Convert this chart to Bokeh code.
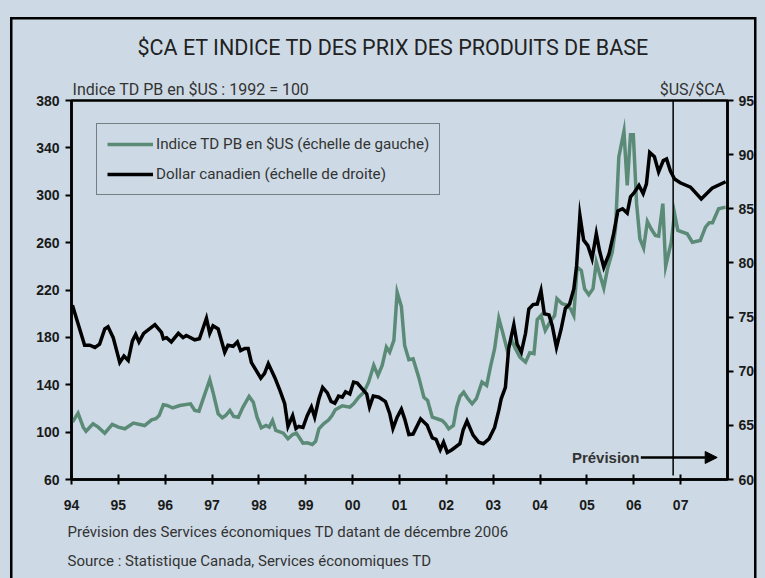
from bokeh.plotting import figure
from bokeh.models import (Range1d, LinearAxis, FixedTicker, Label, Legend, LegendItem,
                          Arrow, NormalHead, Title)
from bokeh.embed import file_html
from bokeh.resources import INLINE

# ---------------- data ----------------
cad_years = [1994.02, 1994.28, 1994.39, 1994.50, 1994.60, 1994.71, 1994.78, 1994.89,
             1995.03, 1995.12, 1995.21, 1995.30, 1995.37, 1995.44, 1995.54, 1995.78,
             1995.92, 1995.96, 1996.03, 1996.13, 1996.28, 1996.38, 1996.45, 1996.63,
             1996.73, 1996.88, 1996.95, 1997.02, 1997.13, 1997.27, 1997.34, 1997.45,
             1997.54, 1997.61, 1997.70, 1997.77, 1997.84, 1998.04, 1998.12, 1998.20,
             1998.34, 1998.45, 1998.55, 1998.62, 1998.72, 1998.79, 1998.85, 1998.94,
             1999.03, 1999.12, 1999.19, 1999.28, 1999.36, 1999.46, 1999.54, 1999.62,
             1999.70, 1999.78, 1999.85, 1999.94, 2000.02, 2000.10, 2000.20, 2000.30,
             2000.36, 2000.44, 2000.56, 2000.70, 2000.79, 2000.86, 2000.95, 2001.04,
             2001.11, 2001.20, 2001.29, 2001.45, 2001.59, 2001.70, 2001.78, 2001.87,
             2001.94, 2002.02, 2002.12, 2002.29, 2002.36, 2002.44, 2002.57, 2002.69,
             2002.79, 2002.91, 2003.03, 2003.12, 2003.17, 2003.26, 2003.33, 2003.44,
             2003.51, 2003.60, 2003.69, 2003.76, 2003.85, 2003.94, 2004.02, 2004.09,
             2004.19, 2004.26, 2004.35, 2004.45, 2004.54, 2004.63, 2004.72, 2004.78,
             2004.85, 2004.93, 2005.02, 2005.11, 2005.20, 2005.27, 2005.36, 2005.47,
             2005.57, 2005.66, 2005.76, 2005.86, 2005.93, 2006.01, 2006.11, 2006.20,
             2006.27, 2006.34, 2006.44, 2006.53, 2006.63, 2006.70, 2006.78, 2006.87,
             2006.99, 2007.21, 2007.44, 2007.67, 2007.96]
cad_values = [76.1, 72.4, 72.4, 72.2, 72.5, 73.9, 74.1, 73.1,
              70.8, 71.4, 71.0, 72.8, 73.4, 72.7, 73.5, 74.3,
              73.6, 73.0, 73.1, 72.7, 73.5, 73.1, 73.3, 72.9,
              73.0, 74.9, 73.5, 74.2, 73.9, 71.75, 72.4, 72.3,
              72.7, 71.9, 72.1, 72.1, 70.8, 69.35, 69.8, 70.7,
              69.4, 68.2, 67.0, 64.9, 65.9, 64.7, 64.9, 64.8,
              65.9, 66.7, 65.75, 67.45, 68.5, 68.0, 67.2, 67.05,
              67.7, 67.6, 68.1, 67.9, 69.0, 68.9, 68.4, 67.9,
              66.7, 67.7, 67.6, 67.2, 66.1, 64.7, 65.75, 66.5,
              65.6, 64.15, 64.2, 65.6, 65.0, 63.85, 63.7, 62.75,
              63.45, 62.5, 62.75, 63.3, 64.6, 65.4, 64.1, 63.45,
              63.3, 63.75, 64.8, 66.4, 67.45, 68.5, 72.1, 74.3,
              72.5, 71.75, 73.5, 75.75, 76.15, 76.2, 77.45, 75.3,
              75.2, 74.2, 72.2, 73.9, 75.8, 76.2, 77.6, 79.75,
              84.4, 82.1, 81.6, 80.4, 82.7, 81.1, 79.6, 80.8,
              82.7, 84.8, 85.0, 84.6, 86.1, 86.5, 87.15, 86.4,
              87.3, 90.2, 89.8, 88.4, 89.45, 89.6, 88.5, 87.75,
              87.4, 87.0, 85.9, 86.9, 87.5]

tdpb_years = [1994.02, 1994.14, 1994.25, 1994.31, 1994.46, 1994.57, 1994.71, 1994.87,
              1995.00, 1995.14, 1995.32, 1995.46, 1995.56, 1995.71, 1995.80, 1995.87,
              1995.96, 1996.04, 1996.16, 1996.31, 1996.54, 1996.63, 1996.72, 1996.95,
              1997.02, 1997.13, 1997.22, 1997.29, 1997.38, 1997.46, 1997.56, 1997.66,
              1997.79, 1997.88, 1997.96, 1998.05, 1998.15, 1998.22, 1998.29, 1998.36,
              1998.52, 1998.62, 1998.72, 1998.80, 1998.94, 1999.03, 1999.14, 1999.21,
              1999.28, 1999.38, 1999.49, 1999.56, 1999.63, 1999.78, 1999.94, 2000.02,
              2000.13, 2000.24, 2000.34, 2000.45, 2000.54, 2000.63, 2000.72, 2000.79,
              2000.88, 2000.95, 2001.04, 2001.11, 2001.20, 2001.29, 2001.41, 2001.52,
              2001.60, 2001.70, 2001.80, 2001.91, 2001.98, 2002.05, 2002.15, 2002.22,
              2002.29, 2002.37, 2002.46, 2002.55, 2002.64, 2002.76, 2002.86, 2002.94,
              2003.03, 2003.12, 2003.20, 2003.30, 2003.39, 2003.48, 2003.57, 2003.69,
              2003.78, 2003.87, 2003.94, 2004.02, 2004.11, 2004.21, 2004.31, 2004.36,
              2004.47, 2004.56, 2004.65, 2004.72, 2004.79, 2004.88, 2004.95, 2005.04,
              2005.13, 2005.20, 2005.27, 2005.36, 2005.44, 2005.54, 2005.61, 2005.68,
              2005.79, 2005.86, 2005.93, 2005.99, 2006.06, 2006.13, 2006.21, 2006.29,
              2006.37, 2006.46, 2006.53, 2006.62, 2006.68, 2006.75, 2006.80, 2006.87,
              2006.94, 2007.14, 2007.25, 2007.42, 2007.53, 2007.61, 2007.68, 2007.81,
              2007.96]
tdpb_values = [108.4, 116.0, 104.2, 100.8, 107.0, 104.2, 99.1, 106.5,
               104.2, 102.8, 107.6, 106.5, 105.6, 110.4, 111.3, 114.0,
               123.1, 122.5, 120.5, 122.5, 123.9, 118.3, 117.7, 144.2,
               133.7, 115.5, 112.1, 114.0, 118.3, 113.2, 112.6, 121.1,
               130.1, 125.3, 112.6, 103.7, 105.6, 104.2, 109.8, 101.4,
               99.1, 94.4, 98.0, 99.2, 90.7, 91.0, 89.6, 92.3,
               102.8, 107.0, 110.4, 114.0, 118.9, 122.2, 121.1, 123.9,
               129.5, 133.7, 142.2, 156.3, 147.8, 156.3, 171.7, 167.5,
               177.4, 218.0, 206.1, 173.2, 161.1, 161.9, 146.4, 129.5,
               126.7, 112.6, 111.3, 109.8, 107.0, 102.8, 105.6, 121.1,
               130.1, 133.7, 128.2, 123.9, 128.2, 142.2, 139.4, 154.9,
               170.4, 196.0, 184.4, 169.0, 178.0, 170.0, 163.3, 159.1,
               167.0, 166.2, 195.1, 198.5, 185.8, 192.9, 198.5, 212.6,
               208.4, 207.5, 204.2, 198.5, 239.3, 236.5, 221.1, 216.0,
               221.1, 243.5, 233.7, 221.6, 238.0, 252.0, 271.7, 332.2,
               354.0, 308.3, 351.1, 351.1, 292.9, 263.3, 255.4, 277.9,
               271.7, 266.1, 265.5, 292.9, 240.0, 252.0, 260.4, 284.4,
               270.3, 267.5, 260.4, 261.9, 273.1, 276.8, 276.8, 288.6,
               290.0]

x_ticks = list(range(1994, 2008))
x_tick_labels = ["94", "95", "96", "97", "98", "99", "00", "01", "02", "03",
                 "04", "05", "06", "07"]
left_ticks = [60, 100, 140, 180, 220, 260, 300, 340, 380]
right_ticks = [60, 65, 70, 75, 80, 85, 90, 95]
forecast_start = 2006.84

title_text = "$CA ET INDICE TD DES PRIX DES PRODUITS DE BASE"
left_unit_text = "Indice TD PB en  $US : 1992 = 100"
right_unit_text = "$US/$CA"
note_text = "Prévision des Services économiques TD datant de décembre 2006"
source_text = "Source : Statistique Canada, Services économiques TD"

# ---------------- style ----------------
BG = "#cddae5"
GREEN = "#5b8b77"
NARROW = "Roboto"
BOLD = "Liberation Sans"
TXT = "#333333"

frame_bg = ("linear-gradient(#000,#000) 10px 17px / 2.5px 700px no-repeat, "
            "linear-gradient(#000,#000) 10px 17px / 746px 2.5px no-repeat, "
            "linear-gradient(#000,#000) 753.5px 17px / 2.5px 700px no-repeat, " + BG)

p = figure(width=765, height=578, x_range=Range1d(1994, 2008), y_range=Range1d(60, 380),
           output_backend="svg", toolbar_location=None, title_location=None,
           min_border_left=71, min_border_right=38, min_border_top=100, min_border_bottom=99,
           background_fill_color=None, border_fill_color=None)
p.styles = {"background": frame_bg}
p.extra_y_ranges = {"cad": Range1d(60, 95)}
p.grid.visible = False
p.outline_line_color = "black"
p.outline_line_width = 2.5

xa = p.xaxis[0]
xa.ticker = FixedTicker(ticks=x_ticks)
xa.major_label_overrides = {t: l for t, l in zip(x_ticks, x_tick_labels)}
xa.major_tick_in = 5
xa.major_tick_out = 5
xa.minor_tick_line_color = None
xa.major_label_standoff = 15

ya = p.yaxis[0]
ya.ticker = FixedTicker(ticks=left_ticks)
ya.major_tick_in = 0
ya.major_tick_out = 6
ya.minor_tick_line_color = None
ya.major_label_standoff = 6

ra = LinearAxis(y_range_name="cad", ticker=FixedTicker(ticks=right_ticks))
ra.major_tick_in = 0
ra.major_tick_out = 6
ra.minor_tick_line_color = None
ra.major_label_standoff = 5
p.add_layout(ra, "right")

for ax in (xa, ya, ra):
    ax.axis_line_color = "black"
    ax.axis_line_width = 2.5
    ax.major_tick_line_color = "black"
    ax.major_tick_line_width = 2
    ax.major_label_text_font = BOLD
    ax.major_label_text_font_style = "bold"
    ax.major_label_text_font_size = "14px"
    ax.major_label_text_color = "#1a1a1a"

# unit captions above the frame, placed as labels of a bare top axis
left_unit_pos = 1996.59
right_unit_pos = 2007.25
ta = LinearAxis(ticker=FixedTicker(ticks=[left_unit_pos, right_unit_pos]))
ta.major_label_overrides = {left_unit_pos: left_unit_text, right_unit_pos: right_unit_text}
ta.axis_line_color = None
ta.major_tick_line_color = None
ta.minor_tick_line_color = None
ta.major_tick_out = 0
ta.major_tick_in = 0
ta.major_label_standoff = 2
ta.major_label_text_font = NARROW
ta.major_label_text_font_size = "16px"
ta.major_label_text_color = TXT
p.add_layout(ta, "above")

p.add_layout(Title(text=title_text, align="left", offset=66, standoff=34,
                   text_font=NARROW, text_font_size="21.5px", text_font_style="normal",
                   text_color="#222222"), "above")

p.add_layout(Title(text=note_text, align="left", offset=-4, standoff=16,
                   text_font=NARROW, text_font_size="15px", text_font_style="normal",
                   text_color=TXT), "below")
p.add_layout(Title(text=source_text, align="left", offset=-4, standoff=2,
                   text_font=NARROW, text_font_size="15px", text_font_style="normal",
                   text_color=TXT), "below")

# ---------------- series ----------------
g = p.line(tdpb_years, tdpb_values, line_color=GREEN, line_width=3.5, line_join="miter")
b = p.line(cad_years, cad_values, y_range_name="cad", line_color="black",
           line_width=3.5, line_join="miter")

p.segment(x0=[forecast_start], y0=[63.4], x1=[forecast_start], y1=[380],
          line_color="black", line_width=1.5)

legend = Legend(items=[LegendItem(label="Indice TD PB en $US (échelle de gauche)", renderers=[g]),
                       LegendItem(label="Dollar canadien (échelle de droite)", renderers=[b])],
                location=(25, 284))
legend.background_fill_alpha = 0
legend.border_line_color = "#222222"
legend.border_line_width = 1.5
legend.padding = 10
legend.spacing = 10
legend.margin = 0
legend.glyph_width = 46
legend.glyph_height = 20
legend.label_height = 20
legend.label_standoff = 3
legend.label_text_font = NARROW
legend.label_text_font_size = "15.2px"
legend.label_text_color = TXT
p.add_layout(legend)

p.add_layout(Label(x=2006.12, y=78.6, text="Prévision", text_align="right",
                   text_baseline="middle", text_font=BOLD, text_font_style="bold",
                   text_font_size="15px", text_color=TXT))
p.add_layout(Arrow(end=NormalHead(size=12, fill_color="black", line_color="black"),
                   x_start=2006.15, y_start=78.6, x_end=2007.78, y_end=78.6,
                   line_color="black", line_width=2.5))

open("out.html", "w").write(file_html(p, INLINE))
